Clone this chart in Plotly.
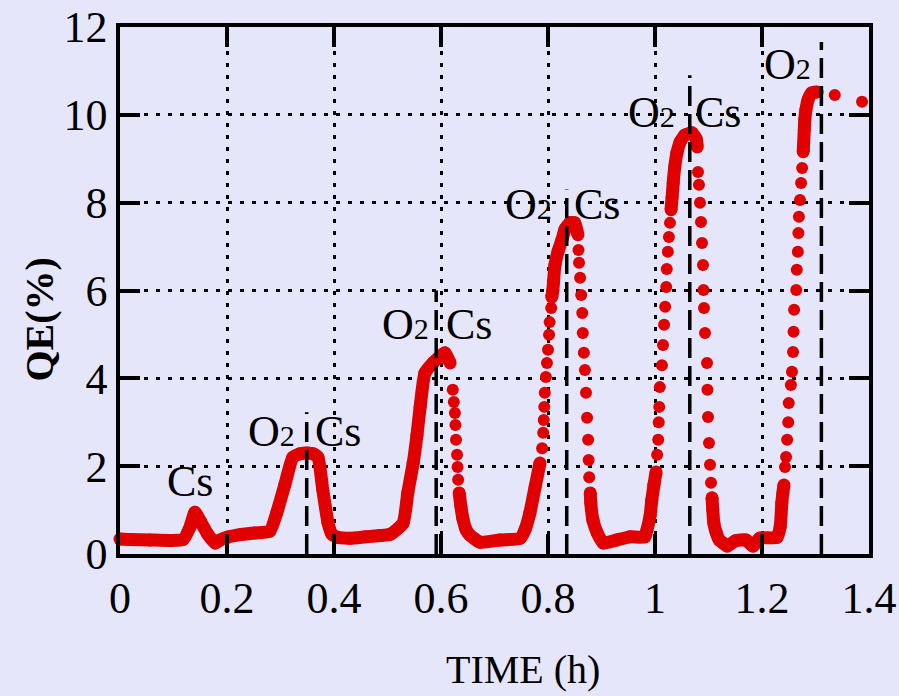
import plotly.graph_objects as go

# ---------------- data ----------------
# continuous (densely sampled) stretches of the QE trace; None separates stretches
line_time = [0.0, 0.019, 0.056, 0.093, 0.118, 0.131, 0.140, 0.150, 0.164, 0.178, 0.187, 0.200,
             0.224, 0.252, 0.280, 0.293, 0.308, 0.323, 0.336, 0.350, 0.361, 0.370, 0.379, 0.389,
             0.396, 0.406, 0.430, 0.458, 0.486, 0.505, 0.529, 0.538, 0.548, 0.555, 0.561, 0.570,
             0.585, 0.598, 0.607, 0.617, None,
             0.634, 0.637, 0.641, 0.647, 0.654, 0.673, 0.710, 0.748, 0.757, 0.766, 0.776, 0.785, None,
             0.807, 0.809, 0.813, 0.819, 0.826, 0.832, 0.841, 0.850, 0.856, None,
             0.879, 0.880, 0.884, 0.892, 0.903, 0.929, 0.953, 0.981, 0.985, 0.991, 0.994, 0.998, 1.002, None,
             1.030, 1.032, 1.034, 1.037, 1.041, 1.047, 1.056, 1.069, 1.077, 1.079, None,
             1.1065, 1.108, 1.110, 1.114, 1.120, 1.127, 1.135, 1.150, 1.170, 1.183, 1.196, 1.228,
             1.234, 1.237, 1.239, 1.241, None,
             1.277, 1.279, 1.280, 1.282, 1.286, 1.293, 1.303]
line_qe = [0.34, 0.33, 0.32, 0.31, 0.33, 0.62, 0.95, 0.75, 0.45, 0.25, 0.32, 0.38,
           0.44, 0.48, 0.52, 0.94, 1.57, 2.2, 2.28, 2.3, 2.28, 2.2, 1.46, 0.7,
           0.45, 0.38, 0.36, 0.39, 0.42, 0.45, 0.7, 1.4, 2.07, 2.7, 3.35, 4.12,
           4.35, 4.5, 4.58, 4.35, None,
           1.39, 1.1, 0.8, 0.55, 0.43, 0.27, 0.32, 0.36, 0.55, 0.93, 1.53, 2.07, None,
           5.85, 6.0, 6.58, 6.9, 7.15, 7.4, 7.54, 7.54, 7.27, None,
           1.39, 1.16, 0.77, 0.48, 0.25, 0.32, 0.39, 0.39, 0.55, 0.89, 1.23, 1.57, 1.87, None,
           7.84, 8.13, 8.45, 8.82, 9.13, 9.38, 9.54, 9.59, 9.45, 9.27, None,
           1.28, 1.0, 0.7, 0.5, 0.32, 0.25, 0.18, 0.3, 0.32, 0.18, 0.36, 0.38,
           0.62, 1.16, 1.39, 1.57, None,
           9.16, 9.66, 9.89, 10.11, 10.34, 10.5, 10.52]

# individually visible samples on the fast transients
dot_time = [0.622, 0.624, 0.626, 0.627, 0.628, 0.630, 0.631, 0.632, 0.634,
            0.789, 0.791, 0.792, 0.793, 0.794, 0.796, 0.798, 0.800, 0.802, 0.803, 0.806, 0.807,
            0.857, 0.858, 0.860, 0.862, 0.864, 0.865, 0.867, 0.869, 0.871, 0.873, 0.875, 0.876, 0.877, 0.879,
            1.004, 1.006, 1.007, 1.008, 1.009, 1.013, 1.015, 1.017, 1.019, 1.021, 1.022, 1.024, 1.026,
            1.028, 1.030,
            1.0804, 1.0822, 1.0841, 1.0860, 1.0879, 1.0897, 1.0907, 1.0916, 1.0935, 1.0972, 1.098,
            1.0991, 1.1009, 1.1028, 1.1047, 1.1065,
            1.243, 1.245, 1.247, 1.249, 1.250, 1.254, 1.256, 1.258, 1.259, 1.260, 1.264, 1.265,
            1.267, 1.268, 1.269, 1.271, 1.273, 1.275, 1.277, 1.278,
            1.336, 1.387]
dot_qe = [3.74, 3.46, 3.21, 2.94, 2.60, 2.26, 1.98, 1.69, 1.39,
          2.41, 2.76, 3.05, 3.35, 3.67, 4.03, 4.35, 4.65, 4.99, 5.28, 5.6, 5.85,
          6.92, 6.63, 6.29, 5.9, 5.49, 5.03, 4.58, 4.19, 3.67, 3.1, 2.6, 2.14, 1.75, 1.39,
          2.26, 2.6, 3.0, 3.35, 3.8, 4.3, 4.76, 5.22, 5.63, 6.08, 6.49, 6.88, 7.22,
          7.54, 7.84,
          8.7, 8.41, 8.0, 7.56, 7.08, 6.58, 6.01, 5.6, 5.03, 4.35, 3.74,
          3.12, 2.53, 2.03, 1.62, 1.28,
          1.98, 2.21, 2.6, 3.0, 3.44, 3.85, 4.15, 4.6, 5.06, 5.56, 6.01, 6.47,
          6.88, 7.31, 7.68, 8.06, 8.45, 8.79, 9.16, 9.43,
          10.45, 10.3]

# gas switching marks (dashed lines): time and top of the mark
switch_time = [0.349, 0.591, 0.835, 1.065, 1.311]
switch_top = [3.23, 6.0, 8.3, 10.9, 11.66]

# labels placed on the chart
label_text = ["Cs", "O2", "Cs", "O2", "Cs", "O2", "Cs", "O2", "Cs", "O2"]
label_time = [0.131, 0.284, 0.407, 0.533, 0.652, 0.763, 0.892, 0.993, 1.118, 1.247]
label_qe = [1.64, 2.78, 2.78, 5.22, 5.22, 7.95, 7.95, 10.05, 10.05, 11.14]

x_ticks = [0, 0.2, 0.4, 0.6, 0.8, 1.0, 1.2, 1.4]
x_tick_text = ["0", "0.2", "0.4", "0.6", "0.8", "1", "1.2", "1.4"]
y_ticks = [0, 2, 4, 6, 8, 10, 12]
y_tick_text = ["0", "2", "4", "6", "8", "10", "12"]

# ---------------- figure ----------------
BG = "#E6E6FA"
RED = "#E00000"
SERIF = "Liberation Serif, Times New Roman, serif"

fig = go.Figure()
fig.add_trace(go.Scatter(x=line_time, y=line_qe, mode="lines+markers",
                         line=dict(color=RED, width=13, shape="spline", smoothing=0.5),
                         marker=dict(color=RED, size=13, line=dict(width=0)),
                         connectgaps=False, cliponaxis=False, showlegend=False, hoverinfo="skip"))
fig.add_trace(go.Scatter(x=dot_time, y=dot_qe, mode="markers",
                         marker=dict(color=RED, size=12, line=dict(width=0)),
                         cliponaxis=False, showlegend=False, hoverinfo="skip"))

for t, top in zip(switch_time, switch_top):
    fig.add_shape(type="line", xref="x", yref="y", x0=t, x1=t, y0=0, y1=top,
                  line=dict(color="black", width=3.5, dash="20px,8px"), layer="above")

for txt, t, q in zip(label_text, label_time, label_qe):
    if txt == "O2":
        txt = "O<span style='font-size:30px'>2</span>"
    fig.add_annotation(x=t, y=q, xref="x", yref="y", text=txt, showarrow=False,
                       font=dict(family=SERIF, size=44, color="black"))

fig.add_annotation(text="TIME (h)", xref="paper", yref="paper", x=0.538, y=-0.22,
                   xanchor="center", yanchor="middle", showarrow=False,
                   font=dict(family=SERIF, size=40, color="black"))
fig.add_annotation(text="<b>QE(%)</b>", xref="paper", yref="paper", x=-0.108, y=0.445,
                   xanchor="center", yanchor="middle", textangle=-90, showarrow=False,
                   font=dict(family=SERIF, size=40, color="black"))

axis_common = dict(showline=True, linecolor="black", linewidth=3.5, mirror="ticks",
                   ticks="inside", ticklen=20, tickwidth=3.5, tickcolor="black",
                   showgrid=True, gridcolor="black", gridwidth=3, griddash="4px,8px",
                   zeroline=False, automargin=False,
                   tickfont=dict(family=SERIF, size=44, color="black"))

fig.update_xaxes(range=[0, 1.4], tickvals=x_ticks, ticktext=x_tick_text,
                 ticklabelstandoff=2, **axis_common)
fig.update_yaxes(range=[0, 12], tickvals=y_ticks, ticktext=y_tick_text,
                 ticklabelstandoff=0, **axis_common)

fig.update_layout(width=899, height=696, paper_bgcolor=BG, plot_bgcolor=BG,
                  margin=dict(l=120, r=30, t=27, b=142), showlegend=False)

fig.write_html("out.html", config={"displayModeBar": False},
               post_script="document.body.style.margin='0';"
                           "document.body.style.background='#E6E6FA';")
